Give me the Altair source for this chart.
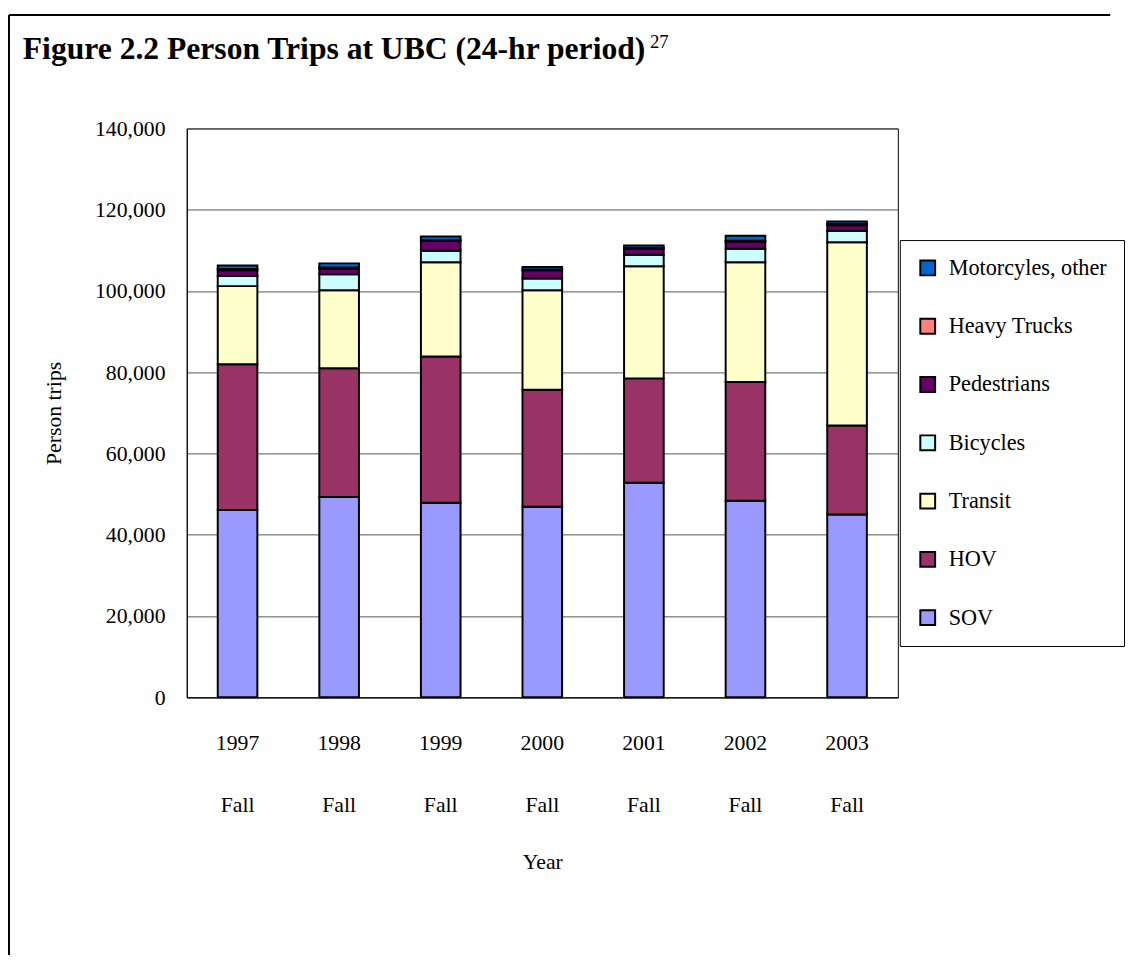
import altair as alt
import pandas as pd

periods = ["1997 Fall", "1998 Fall", "1999 Fall", "2000 Fall", "2001 Fall", "2002 Fall", "2003 Fall"]
modes = ["SOV", "HOV", "Transit", "Bicycles", "Pedestrians", "Heavy Trucks", "Motorcyles, other"]
sov = [46100, 49300, 47900, 46900, 52800, 48400, 45000]
hov = [35900, 31700, 36000, 28800, 25700, 29200, 21900]
transit = [19200, 19200, 23200, 24500, 27600, 29500, 45100]
bicycles = [2500, 3900, 2800, 2900, 2800, 3300, 2800]
pedestrians = [1400, 1400, 2500, 2000, 1500, 1800, 1400]
heavy_trucks = [300, 300, 100, 200, 200, 200, 300]
motorcycles = [900, 1000, 900, 600, 600, 1200, 600]
colors = ["#9999FF", "#993366", "#FFFFCC", "#CCFFFF", "#660066", "#FF8080", "#0066CC"]

series = [sov, hov, transit, bicycles, pedestrians, heavy_trucks, motorcycles]
rows = []
for k, (mode, vals) in enumerate(zip(modes, series)):
    for p, v in zip(periods, vals):
        rows.append({"period": p, "mode": mode, "trips": v, "stack": k})
df = pd.DataFrame(rows)

FONT = "Liberation Serif"

bars = alt.Chart(df).mark_bar(stroke="black", strokeWidth=2).encode(
    x=alt.X("period:N", sort=periods,
            scale=alt.Scale(paddingInner=0.61, paddingOuter=0.305),
            axis=alt.Axis(title="Year", labelAngle=0, ticks=False,
                          labelExpr="split(datum.label, ' ')",
                          labelLineHeight=63, labelBaseline="top",
                          labelPadding=36, titleY=156, domainColor="black",
                          domainWidth=1)),
    y=alt.Y("trips:Q", stack="zero",
            scale=alt.Scale(domain=[0, 140000], nice=False),
            axis=alt.Axis(title="Person trips", values=list(range(0, 140001, 20000)),
                          format=",d", ticks=False, labelPadding=22,
                          grid=True, gridColor="#555555", gridWidth=1,
                          domainColor="black", titleX=-123)),
    color=alt.Color("mode:N",
                    scale=alt.Scale(domain=modes[::-1], range=colors[::-1]),
                    legend=alt.Legend(title=None, orient="none", legendX=722, legendY=113,
                                      symbolType="square", symbolSize=225,
                                      symbolStrokeColor="black", symbolStrokeWidth=2,
                                      labelFontSize=22.5, labelFont=FONT, labelColor="black",
                                      labelOffset=10, rowPadding=35, padding=17,
                                      strokeColor="black", fillColor="white")),
    order=alt.Order("stack:Q", sort="ascending"),
)

one = alt.Data(values=[{}])
frame_left = alt.Chart(one).mark_rule(color="black", strokeWidth=2).encode(
    x=alt.value(-180), y=alt.value(-115), y2=alt.value(837))
frame_top = alt.Chart(one).mark_rule(color="black", strokeWidth=2).encode(
    x=alt.value(-180), x2=alt.value(935), y=alt.value(-115))
title = alt.Chart(one).mark_text(
    text="Figure 2.2 Person Trips at UBC (24-hr period)", font=FONT, fontSize=32,
    fontWeight="bold", align="left", baseline="alphabetic", color="black"
).encode(x=alt.value(-166), y=alt.value(-70))
sup = alt.Chart(one).mark_text(
    text="27", font=FONT, fontSize=19, align="left", baseline="alphabetic", color="black"
).encode(x=alt.value(469), y=alt.value(-81))

chart = alt.layer(bars, frame_left, frame_top, title, sup).properties(
    width=720, height=576, padding=0
).configure_view(stroke="black", strokeWidth=1).configure_axis(
    labelFont=FONT, labelFontSize=22, labelColor="black",
    titleFont=FONT, titleFontSize=22, titleFontWeight="normal", titleColor="black"
)

chart.save("out.html", embed_options={"renderer": "svg", "actions": False})
